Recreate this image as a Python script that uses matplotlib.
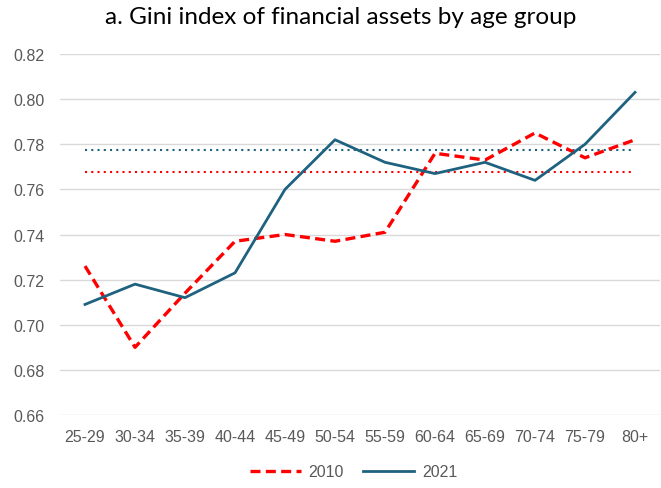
import numpy as np
import matplotlib
matplotlib.use("Agg")
import matplotlib.pyplot as plt

plt.rcParams['font.family'] = ['Liberation Sans', 'DejaVu Sans']

age_groups = ["25-29", "30-34", "35-39", "40-44", "45-49", "50-54",
              "55-59", "60-64", "65-69", "70-74", "75-79", "80+"]
gini_2010 = [0.726, 0.690, 0.714, 0.737, 0.740, 0.737,
             0.741, 0.776, 0.773, 0.785, 0.774, 0.782]
gini_2021 = [0.709, 0.718, 0.712, 0.723, 0.760, 0.782,
             0.772, 0.767, 0.772, 0.764, 0.780, 0.803]
avg_2010 = 0.7676
avg_2021 = 0.7776

red = "#ff0000"
blue = "#1f627f"
text_grey = "#595959"

fig = plt.figure(figsize=(6.61, 4.89), dpi=100)
ax = fig.add_axes([0.0908, 0.1493, 0.9077, 0.7382])

x = np.arange(len(age_groups))

# average lines (dotted)
ax.plot(x, [avg_2021] * len(x), color=blue, linestyle=(0, (1, 2)), linewidth=1.5)
ax.plot(x, [avg_2010] * len(x), color=red, linestyle=(0, (1, 2)), linewidth=1.5)

ax.plot(x, gini_2010, color=red, linestyle=(0, (3, 1.6)), linewidth=2.4, label="2010")
ax.plot(x, gini_2021, color=blue, linewidth=2.0, label="2021")

ax.set_xlim(-0.5, len(x) - 0.5)
ax.set_ylim(0.66, 0.82)
yt = np.arange(0.66, 0.8201, 0.02)
ax.set_yticks(yt)
ax.set_yticklabels([f"{v:.2f}" for v in yt])
ax.set_xticks(x)
ax.set_xticklabels(age_groups)
ax.tick_params(axis='both', length=0, labelsize=11.5, colors=text_grey)
ax.tick_params(axis='y', pad=11)
ax.tick_params(axis='x', pad=10)
ax.yaxis.grid(True, color="#d9d9d9", linewidth=1.0)
ax.set_axisbelow(True)
for s in ax.spines.values():
    s.set_visible(False)

fig.suptitle("a. Gini index of financial assets by age group", fontsize=17.5,
             x=0.516, y=0.985, color="#000000", family=['Lato', 'DejaVu Sans'])

fig.legend(loc="lower center", bbox_to_anchor=(0.535, -0.012), ncol=2, frameon=False,
           fontsize=11.5, handlelength=3.2, handletextpad=0.5, columnspacing=1.2,
           labelcolor=text_grey)

fig.savefig("out.png", dpi=100)
